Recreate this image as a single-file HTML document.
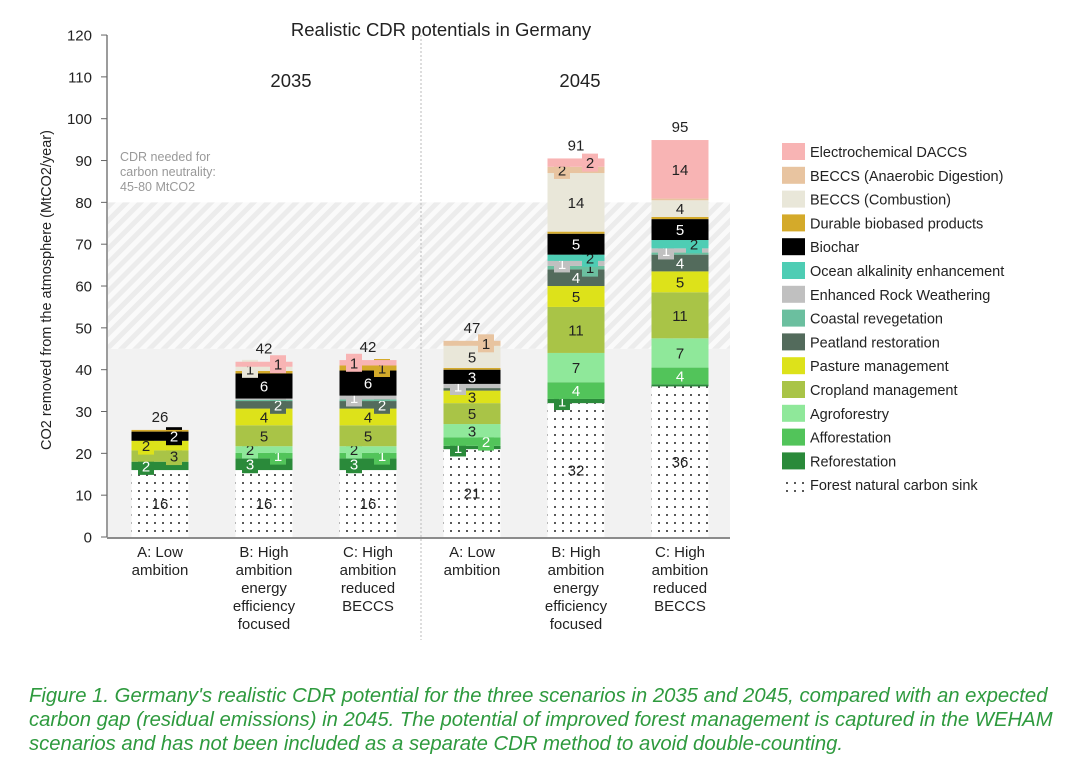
<!DOCTYPE html>
<html><head><meta charset="utf-8">
<style>
body{margin:0;background:#fff;width:1080px;height:769px;overflow:hidden;font-family:"Liberation Sans","DejaVu Sans",sans-serif}
#chart{position:absolute;left:0;top:0}
.cap{position:absolute;left:29px;top:684px;width:1045px;color:#2e9a3e;font-style:italic;font-size:20.3px;line-height:24px;white-space:nowrap}
</style></head><body>
<svg id="chart" width="1080" height="680" xmlns="http://www.w3.org/2000/svg">
<defs>
<pattern id="hatch" width="10" height="10" patternUnits="userSpaceOnUse" patternTransform="rotate(45)">
<rect width="10" height="10" fill="#fafafa"/><rect width="5" height="10" fill="#ececec"/></pattern>
<pattern id="dots" width="8" height="8" patternUnits="userSpaceOnUse">
<rect width="8" height="8" fill="#fff"/><circle cx="3" cy="3" r="1" fill="#222"/></pattern>
</defs>
<g id="bg"></g><g id="bars"></g><g id="axes"></g><g id="legend"></g>
</svg>
<div class="cap">Figure 1. Germany's realistic CDR potential for the three scenarios in 2035 and 2045, compared with an expected<br>carbon gap (residual emissions) in 2045. The potential of improved forest management is captured in the WEHAM<br>scenarios and has not been included as a separate CDR method to avoid double-counting.</div>
<script>
const categories=[["A: Low","ambition"],["B: High","ambition","energy","efficiency","focused"],["C: High","ambition","reduced","BECCS"],["A: Low","ambition"],["B: High","ambition","energy","efficiency","focused"],["C: High","ambition","reduced","BECCS"]];
const totals=[26,42,42,47,91,95];
const seriesNames=["Forest natural carbon sink","Reforestation","Afforestation","Agroforestry","Cropland management","Pasture management","Peatland restoration","Coastal revegetation","Enhanced Rock Weathering","Ocean alkalinity enhancement","Biochar","Durable biobased products","BECCS (Combustion)","BECCS (Anaerobic Digestion)","Electrochemical DACCS"];
const seriesColors=["dots","#2a8a3a","#52c45a","#8fe89a","#a9c447","#dde21a","#536b5c","#6bbf9f","#c0c0c0","#4ecdb4","#000000","#d4aa2a","#e9e7d9","#e8c4a0","#f8b4b4"];
const forest=[16,16,16,21,32,36];
const reforestation=[2,2.8,2.8,0.8,1,0.5];
const afforestation=[0,1.3,1.3,2,4,4];
const agroforestry=[0,1.6,1.6,3.2,7,7];
const cropland=[2.7,5,5,5,11,11];
const pasture=[2.3,4,4,3,5,5];
const peatland=[0,1.8,1.8,0.6,4,4];
const coastal=[0,0.3,0.4,0,0.8,0.5];
const erw=[0,0.3,0.9,1,1.2,1];
const ocean=[0,0,0,0,1.5,2];
const biochar=[2.2,6,6,3.4,5,5];
const durable=[0.4,0.6,1.2,0.4,0.5,0.5];
const beccsComb=[0,1,0,5.3,14,4];
const beccsAD=[0,0,0,1.2,1.5,0.4];
const daccs=[0,1.2,1.3,0,2,14];
const yTicks=[0,10,20,30,40,50,60,70,80,90,100,110,120];
const series=[forest,reforestation,afforestation,agroforestry,cropland,pasture,peatland,coastal,erw,ocean,biochar,durable,beccsComb,beccsAD,daccs];
const darkText=[false,true,true,false,false,false,true,false,true,false,true,false,false,false,false];

const NS="http://www.w3.org/2000/svg";
const y0=537,ky=4.183,xs=[160,264,368,472,576,680],bw=57;
const Y=v=>y0-v*ky;
const X=i=>xs[i];
function mk(p,t,a){const e=document.createElementNS(NS,t);for(const k in a)e.setAttribute(k,a[k]);p.appendChild(e);return e;}
const bg=document.getElementById('bg'),bars=document.getElementById('bars'),ax=document.getElementById('axes'),lg=document.getElementById('legend');

let r=mk(bg,'rect',{x:108,y:Y(45),width:622,height:Y(0)-Y(45),fill:'#f2f2f2'});


r=mk(bg,'rect',{x:108,y:Y(80),width:622,height:Y(45)-Y(80),fill:'url(#hatch)'});


let t=mk(bg,'text',{x:120,y:161,'font-size':12.5,fill:'#999'});t.innerHTML='<tspan x="120">CDR needed for</tspan><tspan x="120" dy="15">carbon neutrality:</tspan><tspan x="120" dy="15">45-80 MtCO2</tspan>';


let dl=mk(bg,'line',{x1:421,y1:35,x2:421,y2:640,stroke:'#bbb','stroke-dasharray':'2,2'});



for(let i=0;i<6;i++){
 let acc=0;let side=0;
 for(let s=0;s<series.length;s++){
  const v=series[s][i];if(v<=0){continue;}
  const yt=Y(acc+v),yb=Y(acc);
  const seg=mk(bars,'rect',{x:X(i)-bw/2,y:yt,width:bw,height:yb-yt,fill:seriesColors[s]==='dots'?'url(#dots)':seriesColors[s]});
  
  
  if(v>=0.75){
   const cy=(yt+yb)/2;let cx=X(i);
   const lab=Math.round(v);
   if(v<3&&s>0){side++;cx=X(i)+(side%2?-14:14);
     const bx=mk(bars,'rect',{x:cx-8,y:cy-9,width:16,height:18,fill:seriesColors[s]});
     
     }
   const tx=mk(bars,'text',{x:cx,y:cy+5.5,'text-anchor':'middle','font-size':15,fill:darkText[s]?'#fff':'#222'});
   tx.textContent=lab;
   
   
  }
  acc+=v;
 }
 const tt=mk(bars,'text',{x:X(i),y:Y(acc)-8,'text-anchor':'middle','font-size':15,fill:'#222'});tt.textContent=totals[i];
 
 
 const cl=mk(ax,'text',{x:X(i),y:557,'text-anchor':'middle','font-size':15,fill:'#222'});
 
 
 categories[i].forEach((w,j)=>{const sp=mk(cl,'tspan',{x:X(i),dy:j?18:0});sp.textContent=w;});
}
mk(ax,'line',{x1:107,y1:Y(120),x2:107,y2:y0,stroke:'#666','stroke-width':1.3});
const xl=mk(ax,'line',{x1:107,y1:y0+1,x2:730,y2:y0+1,stroke:'#666','stroke-width':1.5});


yTicks.forEach(v=>{mk(ax,'line',{x1:101,y1:Y(v),x2:107,y2:Y(v),stroke:'#666'});
 const tl=mk(ax,'text',{x:92,y:Y(v)+5.5,'text-anchor':'end','font-size':15,fill:'#222'});tl.textContent=v;
 
 });
let yt=mk(ax,'text',{x:0,y:0,transform:'translate(51,290) rotate(-90)','text-anchor':'middle','font-size':14.5,fill:'#222'});yt.textContent='CO2 removed from the atmosphere (MtCO2/year)';


let ti=mk(ax,'text',{x:441,y:36,'text-anchor':'middle','font-size':18.5,fill:'#222'});ti.textContent='Realistic CDR potentials in Germany';


[[291,'2035'],[580,'2045']].forEach(p=>{const e=mk(ax,'text',{x:p[0],y:87,'text-anchor':'middle','font-size':18.5,fill:'#222'});e.textContent=p[1];
 
 });
for(let k=0;k<15;k++){const s=14-k;const yy=143+k*23.8;
 const sw=mk(lg,'rect',{x:782,y:yy,width:23,height:17,fill:seriesColors[s]==='dots'?'url(#dots)':seriesColors[s]});
 
 
 const lt=mk(lg,'text',{x:810,y:yy+14,'font-size':14.5,fill:'#222'});lt.textContent=seriesNames[s];
 
 }
</script>
</body></html>
